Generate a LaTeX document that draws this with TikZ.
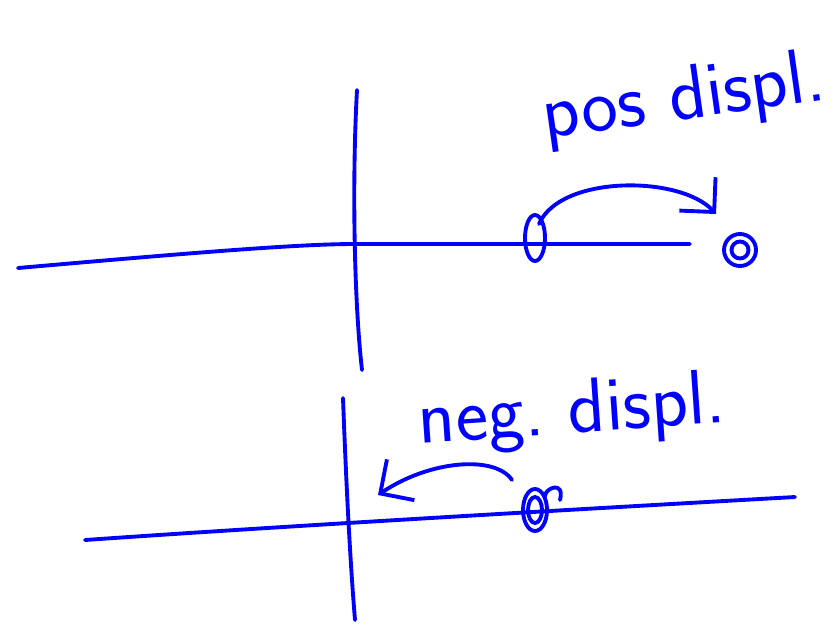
\documentclass[tikz,border=0pt]{standalone}
\usetikzlibrary{arrows.meta}
\begin{document}
\begin{tikzpicture}[x=0.02cm, y=-0.02cm,
    pen/.style={blue, line width=2.2pt, line cap=round, line join=round},
    hand/.style={blue, font=\sffamily\fontsize{44}{44}\selectfont},
    barb/.style={-{Straight Barb[length=14pt, width=28pt, line width=2.2pt]}}]
  \useasboundingbox (0,0) rectangle (837,626);

  % Upper sketch: positive displacement
  \draw[pen] (18,268) .. controls (200,252) and (300,244) .. (355,244) -- (690,244);
  \draw[pen] (357,90) .. controls (352,180) and (354,300) .. (362,370);

  \coordinate (p0) at (535,238);
  \coordinate (p1) at (740,250);
  \coordinate (ptip) at (716,214);
  \draw[pen] (p0) ellipse [x radius=0.2cm, y radius=0.46cm];
  \draw[pen] (p1) circle (0.32cm);
  \draw[pen] (p1) circle (0.17cm);

  \draw[pen, barb] (p0) ++(4,-14) .. controls (560,175) and (680,175) .. (ptip);

  \node[hand, rotate=8] (poslabel) at (684,100) {pos displ.};

  % Lower sketch: negative displacement
  \draw[pen] (85,540) .. controls (300,525) and (600,508) .. (795,497);
  \draw[pen] (343,398) .. controls (346,480) and (350,560) .. (355,620);

  \coordinate (n0) at (535,510);
  \coordinate (ntip) at (378,495);
  \draw[pen] (n0) ellipse [x radius=0.24cm, y radius=0.42cm];
  \draw[pen] (n0) ellipse [x radius=0.14cm, y radius=0.26cm];
  \draw[pen] (n0) ++(10,-14) .. controls (545,488) and (565,480) .. (560,500);

  \draw[pen, barb] (512,480) .. controls (495,455) and (430,460) .. (ntip);

  \node[hand, rotate=4] (neglabel) at (572,414) {neg.\ displ.};
\end{tikzpicture}
\end{document}
